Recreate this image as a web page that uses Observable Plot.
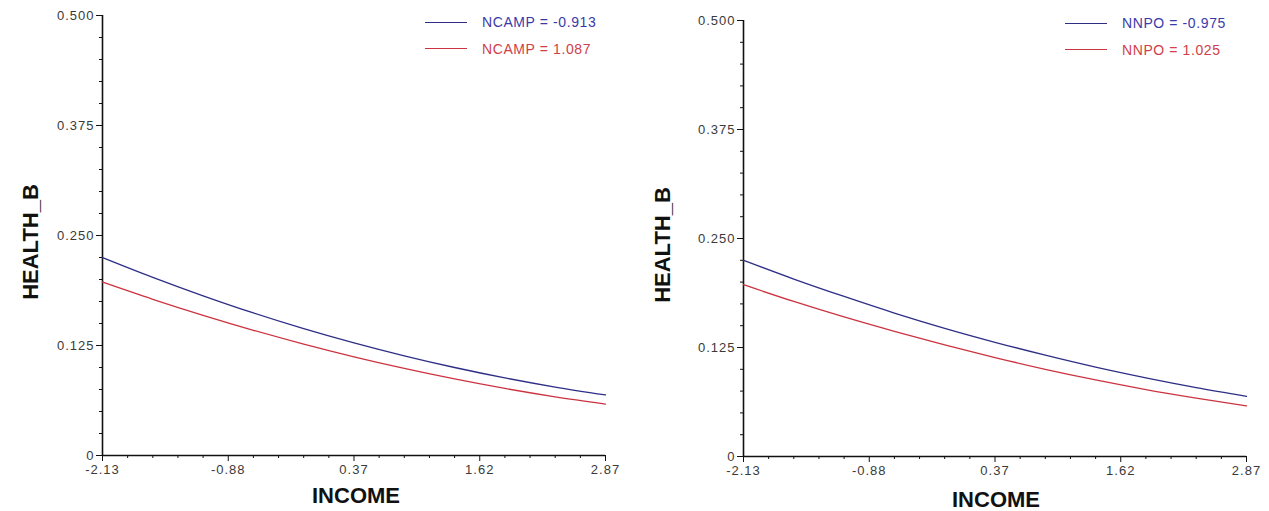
<!DOCTYPE html>
<html>
<head>
<meta charset="utf-8">
<script src="https://cdn.jsdelivr.net/npm/d3@7"></script>
<script src="https://cdn.jsdelivr.net/npm/@observablehq/plot@0.6"></script>
<style>
  html, body { margin: 0; padding: 0; background: #fff; }
  #wrap { position: relative; width: 1269px; height: 511px; overflow: hidden; font-family: "Liberation Sans", Arial, sans-serif; }
  .panel { position: absolute; top: 0; }
  .ylab { position: absolute; font-weight: bold; font-size: 22px; color: #111; transform: translate(-50%, -50%) rotate(-90deg); white-space: nowrap; }
  .xlab { position: absolute; font-weight: bold; font-size: 22px; color: #111; transform: translate(-50%, -50%); white-space: nowrap; }
  .leg { position: absolute; font-size: 14px; letter-spacing: 0.6px; white-space: nowrap; display: flex; align-items: center; }
  .leg .sw { display: inline-block; width: 42px; height: 0; border-top: 1.3px solid; margin-right: 15px; }
</style>
</head>
<body>
<div id="wrap"></div>
<script>
// ---- data ----
const income = [-2.13, -1.63, -1.13, -0.63, -0.13, 0.37, 0.87, 1.37, 1.87, 2.37, 2.87];
const ncampLow  = [0.225, 0.2025, 0.1815, 0.1620, 0.1442, 0.1280, 0.1133, 0.1000, 0.0882, 0.0778, 0.0688];
const ncampHigh = [0.197, 0.1775, 0.1593, 0.1423, 0.1266, 0.1122, 0.0990, 0.0870, 0.0762, 0.0667, 0.0585];
const nnpoLow   = [0.225, 0.2035, 0.1835, 0.1645, 0.1470, 0.1310, 0.1162, 0.1025, 0.0902, 0.0790, 0.0690];
const nnpoHigh  = [0.197, 0.1778, 0.1600, 0.1435, 0.1280, 0.1135, 0.1000, 0.0878, 0.0768, 0.0670, 0.0580];
const leftSeries  = ["NCAMP = -0.913", "NCAMP = 1.087"];
const rightSeries = ["NNPO = -0.975", "NNPO = 1.025"];
const xMajorTicks = [-2.13, -0.88, 0.37, 1.62, 2.87];
const xTickLabels = ["-2.13", "-0.88", "0.37", "1.62", "2.87"];
const yMajorTicks = [0, 0.125, 0.25, 0.375, 0.5];
const yTickLabels = ["0", "0.125", "0.250", "0.375", "0.500"];
const xLabel = "INCOME";
const yLabel = "HEALTH_B";

// ---- styles ----
const lineColors = ["#2e2e86", "#cc3340"];
const legendTextColors = ["#3b3ba8", "#d04048"];

const xMinor = d3.range(0, 21).map(i => +(-2.13 + i * 0.25).toFixed(2)).filter(v => !xMajorTicks.includes(v));
const yMinor = d3.range(0, 21).map(i => +(i * 0.025).toFixed(3)).filter(v => !yMajorTicks.some(t => Math.abs(t - v) < 1e-9));

function makeChart(series, lowVals, highVals, m) {
  const data = [];
  income.forEach((x, i) => data.push({x, y: lowVals[i], s: series[0]}));
  income.forEach((x, i) => data.push({x, y: highVals[i], s: series[1]}));
  return Plot.plot({
    width: 634, height: 511,
    marginLeft: m.l, marginRight: m.r, marginTop: m.t, marginBottom: m.b,
    style: {fontFamily: "'Liberation Sans', Arial, sans-serif", fontSize: "13px", color: "#333", background: "#fff", overflow: "visible", letterSpacing: "1px"},
    x: {domain: [-2.13, 2.87]},
    y: {domain: [0, 0.5]},
    color: {domain: series, range: lineColors},
    marks: [
      Plot.axisX(xMinor, {tickSize: 3, tickFormat: () => "", stroke: "#111", label: null}),
      Plot.axisX(xMajorTicks, {tickSize: 6, tickPadding: 3, tickFormat: d => xTickLabels[xMajorTicks.indexOf(d)], stroke: "#111", fill: "#3a3a3a", label: null, fontSize: 13}),
      Plot.axisY(yMinor, {tickSize: 3, tickFormat: () => "", stroke: "#111", label: null}),
      Plot.axisY(yMajorTicks, {tickSize: 6, tickPadding: 2, tickFormat: d => yTickLabels[yMajorTicks.indexOf(d)], stroke: "#111", fill: "#3a3a3a", label: null, fontSize: 13}),
      Plot.ruleX([-2.13], {stroke: "#111", strokeWidth: 1.6}),
      Plot.ruleY([0], {stroke: "#111", strokeWidth: 1.6}),
      Plot.line(data, {x: "x", y: "y", z: "s", stroke: "s", strokeWidth: 1.3, curve: "monotone-x"})
    ]
  });
}

const wrap = document.getElementById("wrap");

function addPanel(left, chart, series, opts) {
  const p = document.createElement("div");
  p.className = "panel";
  p.style.left = left + "px";
  p.appendChild(chart);
  wrap.appendChild(p);
  const yl = document.createElement("div");
  yl.className = "ylab"; yl.textContent = yLabel;
  yl.style.left = opts.ylx + "px"; yl.style.top = opts.yly + "px";
  wrap.appendChild(yl);
  const xl = document.createElement("div");
  xl.className = "xlab"; xl.textContent = xLabel;
  xl.style.left = opts.xlx + "px"; xl.style.top = opts.xly + "px";
  wrap.appendChild(xl);
  series.forEach((s, i) => {
    const lg = document.createElement("div");
    lg.className = "leg";
    lg.style.left = opts.legx + "px";
    lg.style.top = (opts.legy + i * 26.5) + "px";
    const sw = document.createElement("span");
    sw.className = "sw"; sw.style.borderTopColor = lineColors[i];
    const t = document.createElement("span");
    t.textContent = s; t.style.color = legendTextColors[i];
    lg.appendChild(sw); lg.appendChild(t);
    wrap.appendChild(lg);
  });
}

addPanel(0, makeChart(leftSeries, ncampLow, ncampHigh, {l: 102, r: 29, t: 15, b: 56}), leftSeries,
  {ylx: 31, yly: 242, xlx: 356, xly: 496, legx: 425, legy: 14});
addPanel(635, makeChart(rightSeries, nnpoLow, nnpoHigh, {l: 108, r: 23, t: 20, b: 55}), rightSeries,
  {ylx: 663, yly: 245, xlx: 996, xly: 500, legx: 1065, legy: 15});
</script>
</body>
</html>
